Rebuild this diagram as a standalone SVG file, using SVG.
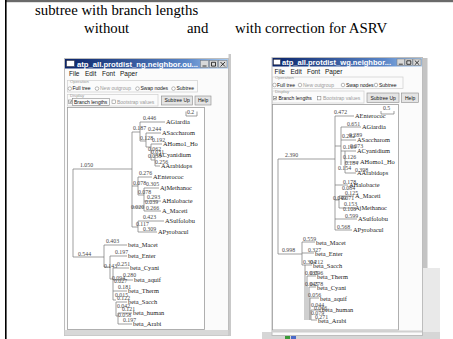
<svg xmlns="http://www.w3.org/2000/svg" width="453" height="339" viewBox="0 0 453 339">
<defs>
<linearGradient id="tb" x1="0" x2="1" y1="0" y2="0">
<stop offset="0" stop-color="#0a246a"/><stop offset="0.75" stop-color="#5a86c8"/><stop offset="1" stop-color="#a6caf0"/>
</linearGradient>
<style>
.h{font-family:"Liberation Serif","Times New Roman",serif;font-size:14.8px;fill:#000}
.tt{font-family:"Liberation Sans",Arial,sans-serif;font-weight:bold;font-size:8px;fill:#fff}
.mn{font-family:"Liberation Sans",Arial,sans-serif;font-size:6.5px;fill:#111}
.ui{font-family:"Liberation Sans",Arial,sans-serif;font-size:5px;fill:#111}
.dis{fill:#9a9a9a}
.lg{font-family:"Liberation Sans",Arial,sans-serif;font-size:4.3px;fill:#999}
.box{fill:none;stroke:#cfcfcf;stroke-width:0.7}
.btn{fill:#e4e4e4;stroke:#8a8a8a;stroke-width:0.6}
.win{fill:#fbfbfb;stroke:#bdbdbd;stroke-width:1}
.panel{fill:#fff;stroke:#9c9c9c;stroke-width:0.8}
.tr{fill:none;stroke:#777;stroke-width:0.7}
.bl{font-family:"Liberation Serif","Times New Roman",serif;font-size:5.8px;fill:#444}
.lf{font-family:"Liberation Serif","Times New Roman",serif;font-size:6.4px;fill:#222}
.rad{fill:#fff;stroke:#777;stroke-width:0.5}
.wb{fill:#d8d8d8;stroke:#777;stroke-width:0.5}
.gl{fill:none;stroke:#111;stroke-width:0.8}
</style>
</defs>
<rect x="0" y="0" width="453" height="339" fill="#fff"/>
<rect x="5" y="0" width="448" height="2.2" fill="#6a6a6a"/>
<rect x="5" y="0" width="1.6" height="339" fill="#000"/>

<g id="caption">
<text class="h" x="35" y="14.5">subtree with branch lengths</text>
<text class="h" x="84" y="33">without</text>
<text class="h" x="187" y="33">and</text>
<text class="h" x="235" y="33">with correction for ASRV</text>
</g>

<!-- background strips -->
<rect x="228.5" y="54" width="2.5" height="282" fill="#c9c9c9"/>
<rect x="423" y="58" width="4.5" height="210" fill="#c4c4c4"/>
<rect x="423" y="268" width="17" height="64" fill="#e9e9e9"/>
<rect x="262" y="332" width="178" height="7" fill="#d6d6d6"/>
<rect x="285" y="334.5" width="5" height="4.5" fill="#3a9a3a"/>
<rect x="291" y="334.5" width="5" height="4.5" fill="#4a6ac8"/>

<g id="window-left">
<rect class="win" x="64.5" y="58.5" width="164" height="277"/>
<rect x="65" y="59" width="163" height="9.5" fill="url(#tb)"/>
<rect x="66.5" y="60.5" width="8" height="6" fill="#fff" stroke="#223" stroke-width="0.5"/>
<text class="tt" x="77" y="66.8" textLength="121" lengthAdjust="spacingAndGlyphs">atp_all.protdist_ng.neighbor.ou...</text>
<rect class="wb" x="200.5" y="60.5" width="8" height="7"/>
<rect class="wb" x="209.5" y="60.5" width="8" height="7"/>
<rect class="wb" x="218.5" y="60.5" width="8.5" height="7"/>
<path class="gl" d="M202.5,66H206.5M211.5,62.3h4v3.8h-4zM220.5,62L225,66.5M225,62L220.5,66.5"/>
<text class="mn" x="69" y="76">File</text>
<text class="mn" x="85" y="76">Edit</text>
<text class="mn" x="102" y="76">Font</text>
<text class="mn" x="120" y="76">Paper</text>
<rect class="box" x="67.5" y="80.5" width="130" height="11.5"/>
<text class="lg" x="70" y="82.5">Operation</text>
<circle class="rad" cx="69.8" cy="88.6" r="1.8"/>
<text class="ui" x="72.5" y="90.3">Full tree</text>
<circle class="rad" cx="97" cy="88.6" r="1.8"/>
<text class="ui dis" x="100" y="90.3">New outgroup</text>
<circle class="rad" cx="137.5" cy="88.6" r="1.8"/>
<text class="ui" x="140.5" y="90.3">Swap nodes</text>
<circle class="rad" cx="173.5" cy="88.6" r="1.8"/>
<text class="ui" x="176.5" y="90.3">Subtree</text>
<rect class="box" x="67.5" y="94.5" width="90.5" height="11.5"/>
<text class="lg" x="70" y="96.5">Display</text>
<rect class="rad" x="68.5" y="100" width="3.4" height="3.4"/>
<path d="M69.2,101.6l1,1l1.3,-2" fill="none" stroke="#111" stroke-width="0.5"/>
<rect x="72.5" y="98.5" width="37" height="7" fill="none" stroke="#777" stroke-width="0.5"/>
<text class="ui" x="74" y="103.6">Branch lengths</text>
<rect class="rad" x="112" y="100" width="3.4" height="3.4"/>
<text class="ui dis" x="117" y="103.6">Bootstrap values</text>
<rect class="btn" x="161.5" y="96" width="31" height="9"/>
<text class="ui" x="164.5" y="102.4">Subtree Up</text>
<rect class="btn" x="195" y="96" width="16" height="9"/>
<text class="ui" x="198" y="102.4">Help</text>
<rect class="panel" x="67.5" y="107.5" width="137" height="222"/>
<rect x="64.5" y="330" width="164" height="5.5" fill="#d8d8d8"/>
</g>

<g id="window-right">
<rect class="win" x="272" y="57.5" width="150.5" height="278"/>
<rect x="272.5" y="58" width="149.5" height="8.5" fill="url(#tb)"/>
<rect x="273.5" y="59.3" width="7" height="5.5" fill="#fff" stroke="#223" stroke-width="0.5"/>
<text class="tt" x="282" y="65.2" textLength="109" lengthAdjust="spacingAndGlyphs">atp_all.protdist_wg.neighbor...</text>
<rect class="wb" x="397" y="59" width="7.5" height="6.5"/>
<rect class="wb" x="405" y="59" width="7.5" height="6.5"/>
<rect class="wb" x="413" y="59" width="8" height="6.5"/>
<path class="gl" d="M398.8,64.2H402.8M406.8,60.8h4v3.5h-4zM414.8,60.5L419.2,64.8M419.2,60.5L414.8,64.8"/>
<text class="mn" x="274.5" y="73.5">File</text>
<text class="mn" x="290.5" y="73.5">Edit</text>
<text class="mn" x="307" y="73.5">Font</text>
<text class="mn" x="325" y="73.5">Paper</text>
<rect class="box" x="272.5" y="77" width="130.5" height="11.5"/>
<text class="lg" x="275" y="79">Operation</text>
<circle class="rad" cx="274.5" cy="85" r="1.8"/>
<text class="ui" x="277" y="86.8">Full tree</text>
<circle class="rad" cx="300" cy="85" r="1.8"/>
<text class="ui dis" x="303" y="86.8">New outgroup</text>
<circle class="rad" cx="343" cy="85" r="1.8"/>
<text class="ui" x="346" y="86.8">Swap nodes</text>
<circle class="rad" cx="376" cy="85" r="1.8"/>
<text class="ui" x="379" y="86.8">Subtree</text>
<rect class="box" x="272.5" y="91" width="91.5" height="12"/>
<text class="lg" x="275" y="93">Display</text>
<rect class="rad" x="273.3" y="96.5" width="3.4" height="3.4"/>
<path d="M274,98.1l1,1l1.3,-2" fill="none" stroke="#111" stroke-width="0.5"/>
<text class="ui" x="278.5" y="100.2">Branch lengths</text>
<rect class="rad" x="317.5" y="96.5" width="3.4" height="3.4"/>
<text class="ui dis" x="323" y="100.2">Bootstrap values</text>
<rect class="btn" x="367" y="93" width="32" height="9.5"/>
<text class="ui" x="370.5" y="99.6">Subtree Up</text>
<rect class="btn" x="401.5" y="93" width="17" height="9.5"/>
<text class="ui" x="405" y="99.6">Help</text>
<rect class="panel" x="272.5" y="104.5" width="126" height="225.5"/>
<rect x="272" y="330.5" width="150" height="2" fill="#d0d0d0"/>
</g>

<g id="connectors">
<path class="tr" d="M186,111.5V116H197V111.5"/>
<path class="tr" d="M73,169V257M73,169H132M73,257H104
M132,132V227M132,132H140M140,122V141M140,122H165M140,141H146M146,133V147M146,133H161M146,147H151M151,144V160M151,144H162M151,160H155M155,155V166M155,155H158M155,166H160
M132,186H138M138,177V195M138,177H152M138,195H144M144,188V201M144,188H159M144,201H161M132,207H144M144,201V211M144,211H161
M132,227H138M138,221V232M138,221H164M138,232H157
M104,245V267M104,245H127M104,267H110M110,256V279M110,256H127M110,279H113M113,268V300M113,268H129M113,280H133M113,291H127M113,300H116M116,302V316M116,302H127M116,316H118M118,313V324M118,313H132M118,324H132"/>
<path class="tr" d="M381,111V114H394V111"/>
<path class="tr" d="M278,159V254M278,159H335M278,254H302
M335,116V230M335,116H354M335,146H341M341,127V165M341,127H361M341,140H356M341,151H345M345,151V173M345,151H356M345,162H359M345,173H356
M335,185H348M335,200H339M339,196V208M339,196H354M339,208H354M335,219H357M335,230H352
M302,242V265M302,242H315M302,253H314M302,265H305M305,265V320M305,265H312M307,276V320M307,276H316M309,287V320M309,287H316M310,298V320M310,298H319M311,310V320M311,310H321M311,320H317"/>
</g>

<g id="tree-left">
<text class="bl" x="187" y="114">0.2</text>
<text class="bl" x="80" y="167">1.050</text>
<text class="bl" x="78" y="256">0.544</text>
<text class="bl" x="133" y="130">0.187</text>
<text class="bl" x="143" y="120">0.446</text>
<text class="bl" x="148" y="131">0.244</text>
<text class="bl" x="140" y="140">0.128</text>
<text class="bl" x="152" y="142">0.192</text>
<text class="bl" x="148" y="151">0.062</text>
<text class="bl" x="151" y="154">0.031</text>
<text class="bl" x="148" y="158">0.035</text>
<text class="bl" x="155" y="164">0.256</text>
<text class="bl" x="139" y="175">0.276</text>
<text class="bl" x="133" y="185">0.078</text>
<text class="bl" x="146" y="186">0.305</text>
<text class="bl" x="138" y="194">0.078</text>
<text class="bl" x="147" y="199">0.293</text>
<text class="bl" x="145" y="204">0.039</text>
<text class="bl" x="131" y="209">0.020</text>
<text class="bl" x="146" y="210">0.266</text>
<text class="bl" x="143" y="219">0.423</text>
<text class="bl" x="136" y="226">0.117</text>
<text class="bl" x="143" y="231">0.309</text>
<text class="bl" x="106" y="243">0.403</text>
<text class="bl" x="115" y="254">0.197</text>
<text class="bl" x="117" y="266">0.251</text>
<text class="bl" x="104" y="268">0.143</text>
<text class="bl" x="123" y="277">0.280</text>
<text class="bl" x="112" y="280">0.094</text>
<text class="bl" x="114" y="283">0.027</text>
<text class="bl" x="118" y="289">0.181</text>
<text class="bl" x="115" y="297">0.015</text>
<text class="bl" x="117" y="300">0.122</text>
<text class="bl" x="117" y="308">0.042</text>
<text class="bl" x="122" y="311">0.121</text>
<text class="bl" x="118" y="317">0.058</text>
<text class="bl" x="123" y="322">0.197</text>
<text class="lf" x="166" y="124">AGiardia</text>
<text class="lf" x="162" y="135">ASaccharom</text>
<text class="lf" x="163" y="146">AHomo1_Ho</text>
<text class="lf" x="158" y="157">ACyanidium</text>
<text class="lf" x="161" y="168">AArabidops</text>
<text class="lf" x="153" y="179">AEnterococ</text>
<text class="lf" x="160" y="190">AjMethanoc</text>
<text class="lf" x="162" y="203">AHalobacte</text>
<text class="lf" x="162" y="213">A_Maceti</text>
<text class="lf" x="165" y="223">ASulfolobu</text>
<text class="lf" x="158" y="234">APyrobacul</text>
<text class="lf" x="128" y="247">beta_Macet</text>
<text class="lf" x="128" y="258">beta_Enter</text>
<text class="lf" x="130" y="270">beta_Cyani</text>
<text class="lf" x="134" y="282">beta_aquif</text>
<text class="lf" x="128" y="293">beta_Therm</text>
<text class="lf" x="128" y="304">beta_Sacch</text>
<text class="lf" x="133" y="315">beta_human</text>
<text class="lf" x="133" y="326">beta_Arabi</text>
</g>

<g id="tree-right">
<text class="bl" x="383" y="110">0.5</text>
<text class="bl" x="285" y="157">2.390</text>
<text class="bl" x="282" y="252">0.998</text>
<text class="bl" x="334" y="114">0.472</text>
<text class="bl" x="347" y="125.5">0.651</text>
<text class="bl" x="342" y="138">0.282</text>
<text class="bl" x="349" y="137">0.289</text>
<text class="bl" x="343" y="149">0.169</text>
<text class="bl" x="350" y="147.5">0.073</text>
<text class="bl" x="343" y="159">0.126</text>
<text class="bl" x="345" y="164.5">0.184</text>
<text class="bl" x="338" y="169.5">0.154</text>
<text class="bl" x="355" y="171.5">0.398</text>
<text class="bl" x="343" y="183.5">0.178</text>
<text class="bl" x="342" y="190">0.084</text>
<text class="bl" x="345" y="195">0.125</text>
<text class="bl" x="333" y="200">0.049</text>
<text class="bl" x="341" y="200">0.071</text>
<text class="bl" x="344" y="206">0.153</text>
<text class="bl" x="343" y="211">0.108</text>
<text class="bl" x="345" y="218">0.599</text>
<text class="bl" x="337" y="229">0.568</text>
<text class="bl" x="303" y="241">0.559</text>
<text class="bl" x="308" y="252">0.327</text>
<text class="bl" x="303" y="264">0.304</text>
<text class="bl" x="310" y="264">0.212</text>
<text class="bl" x="305" y="275">0.035</text>
<text class="bl" x="310" y="275">0.096</text>
<text class="bl" x="305" y="286">0.045</text>
<text class="bl" x="310" y="286">0.278</text>
<text class="bl" x="308" y="297">0.056</text>
<text class="bl" x="311" y="307">0.044</text>
<text class="bl" x="314" y="310">0.066</text>
<text class="bl" x="311" y="315">0.079</text>
<text class="bl" x="315" y="319">0.271</text>
<text class="lf" x="355" y="118">AEnterococ</text>
<text class="lf" x="362" y="129">AGiardia</text>
<text class="lf" x="357" y="142">ASaccharom</text>
<text class="lf" x="357" y="153">ACyanidium</text>
<text class="lf" x="360" y="164">AHomo1_Ho</text>
<text class="lf" x="357" y="175">AArabidops</text>
<text class="lf" x="349" y="187">AHalobacte</text>
<text class="lf" x="355" y="198">A_Maceti</text>
<text class="lf" x="355" y="210">AjMethanoc</text>
<text class="lf" x="358" y="221">ASulfolobu</text>
<text class="lf" x="353" y="232">APyrobacul</text>
<text class="lf" x="316" y="245">beta_Macet</text>
<text class="lf" x="315" y="256">beta_Enter</text>
<text class="lf" x="313" y="268">beta_Sacch</text>
<text class="lf" x="317" y="279">beta_Therm</text>
<text class="lf" x="317" y="290">beta_Cyani</text>
<text class="lf" x="320" y="301">beta_aquif</text>
<text class="lf" x="322" y="312">beta_human</text>
<text class="lf" x="318" y="323">beta_Arabi</text>
</g>
</svg>
